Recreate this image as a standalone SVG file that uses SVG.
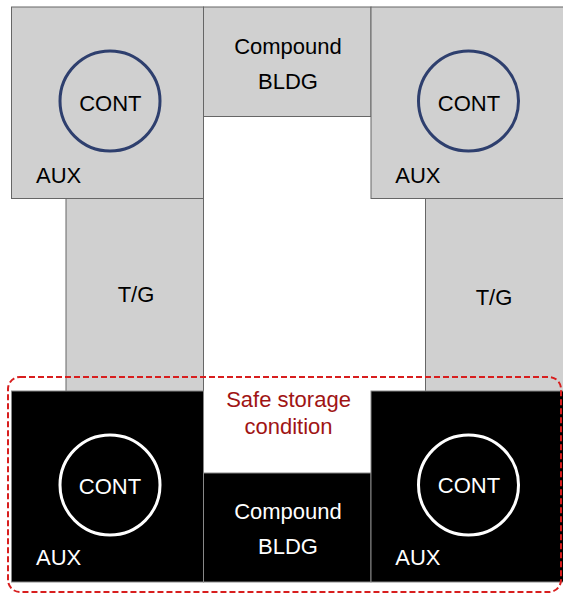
<svg xmlns="http://www.w3.org/2000/svg" width="563" height="594" viewBox="0 0 563 594">
<style>
.g{fill:#d0d0d0;stroke:#666;stroke-width:1}
.b{fill:#000;stroke:#888;stroke-width:1}
.t{font-family:"Liberation Sans",Arial,sans-serif;font-size:22px;text-anchor:middle}
.tl{font-family:"Liberation Sans",Arial,sans-serif;font-size:22px}
.dk{fill:#000}
.wh{fill:#fff}
.cb{fill:none;stroke:#2e3f6e;stroke-width:3}
.cw{fill:none;stroke:#fff;stroke-width:3}
</style>
<rect width="563" height="594" fill="#fff"/>
<g id="tg-left"><rect class="g" x="66" y="198.5" width="137.5" height="193"/><text class="t dk" x="136" y="302">T/G</text></g>
<g id="tg-right"><rect class="g" x="425.5" y="198.5" width="140" height="193"/><text class="t dk" x="494" y="305">T/G</text></g>
<g id="aux-top-left"><rect class="g" x="11.5" y="7" width="192" height="191.5"/><circle class="cb" cx="110" cy="101" r="50"/><text class="t dk" x="110.3" y="110.7">CONT</text><text class="tl dk" x="36" y="182.7">AUX</text></g>
<g id="compound-top"><rect class="g" x="203.5" y="7" width="167.5" height="109.5"/><text class="t dk" x="288" y="54.3">Compound</text><text class="t dk" x="288" y="89.3">BLDG</text></g>
<g id="aux-top-right"><rect class="g" x="371" y="7" width="195" height="191.5"/><circle class="cb" cx="468.5" cy="101" r="50"/><text class="t dk" x="469" y="110.7">CONT</text><text class="tl dk" x="395.3" y="182.7">AUX</text></g>
<g id="aux-bottom-left"><rect class="b" x="11.5" y="391" width="192" height="191"/><circle class="cw" cx="110" cy="485" r="50"/><text class="t wh" x="110" y="494">CONT</text><text class="tl wh" x="36" y="565">AUX</text></g>
<g id="compound-bottom"><rect class="b" x="203.5" y="473" width="167.5" height="109"/><text class="t wh" x="288" y="519">Compound</text><text class="t wh" x="288" y="554">BLDG</text></g>
<g id="aux-bottom-right"><rect class="b" x="371" y="391" width="195" height="191"/><circle class="cw" cx="468.5" cy="485" r="50"/><text class="t wh" x="469" y="493">CONT</text><text class="tl wh" x="395.3" y="565">AUX</text></g>
<g id="safe-storage"><rect x="8" y="377" width="553" height="215" rx="12" fill="none" stroke="#d81e1e" stroke-width="2" stroke-dasharray="6 3"/><text class="t" fill="#a01414" x="288.5" y="407">Safe storage</text><text class="t" fill="#a01414" x="288.5" y="434">condition</text></g>
<g id="connectors"/>
</svg>
